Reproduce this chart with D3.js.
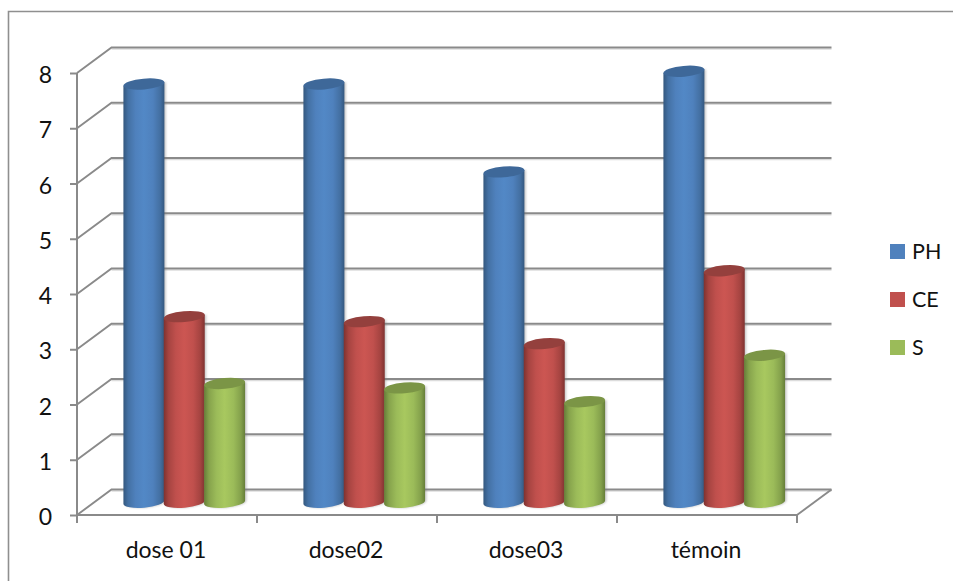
<!DOCTYPE html>
<html>
<head>
<meta charset="utf-8">
<script src="https://cdn.jsdelivr.net/npm/d3@7"></script>
<style>
html,body{margin:0;padding:0;background:#fff}
svg{display:block}
text{font-family:Lato,"Open Sans",sans-serif;fill:#111}
</style>
</head>
<body>
<svg id="chart" width="953" height="581"></svg>
<script>
// Chart data
const categories = ["dose 01", "dose02", "dose03", "témoin"];
const seriesNames = ["PH", "CE", "S"];
const PH = [7.57, 7.57, 5.98, 7.8];
const CE = [3.36, 3.27, 2.87, 4.19];
const S = [2.15, 2.07, 1.82, 2.66];
const yTicks = [0, 1, 2, 3, 4, 5, 6, 7, 8];

const seriesValues = [PH, CE, S];
const palette = [
  {edge:"#34587f", mid:"#4f81bd", light:"#5288c6", top:"#3e6899"},
  {edge:"#7f3230", mid:"#c0504d", light:"#cc5652", top:"#94403d"},
  {edge:"#667e39", mid:"#9bbb59", light:"#a8c85f", top:"#7b9546"}
];

const svg = d3.select("#chart");
const margin = {left:77, right:797, top:73, bottom:515};
const depth = {dx:34.5, dy:-25.5};   // oblique offset from front plane to back wall
const axisColor = "#8a8a8a";

const x = d3.scaleBand().domain(categories).range([margin.left, margin.right]);
const y = d3.scaleLinear().domain([0, 8]).range([margin.bottom, margin.top]);
const xSeries = d3.scaleBand().domain(seriesNames).range([29.5, 150.5]);

// Outer frame: only the top and left edges fall inside the canvas
svg.append("path").attr("d", "M8.5,581V11.5H953").attr("fill", "none")
  .attr("stroke", "#8f8f8f").attr("stroke-width", 1.6);

// Gradients for the cylinder bodies
const defs = svg.append("defs");
palette.forEach((c, i) => {
  const g = defs.append("linearGradient").attr("id", "body" + i);
  [[0, c.edge], [0.12, d3.interpolateRgb(c.edge, c.mid)(0.6)], [0.3, c.mid], [0.5, c.light],
   [0.72, c.mid], [0.9, d3.interpolateRgb(c.edge, c.mid)(0.55)], [1, c.edge]]
    .forEach(([o, col]) => g.append("stop").attr("offset", o).attr("stop-color", col));
});
const soft = defs.append("filter").attr("id", "soft")
  .attr("x", "-20%").attr("width", "140%").attr("y", "-5%").attr("height", "110%");
soft.append("feGaussianBlur").attr("stdDeviation", 1);

// Back-wall gridlines, side-wall diagonals and the floor
const grid = svg.append("g").attr("fill", "none");
yTicks.forEach(t => {
  const py = y(t);
  const d = `M${margin.left},${py}L${margin.left + depth.dx},${py + depth.dy}H${margin.right + depth.dx}`;
  grid.append("path").attr("d", `M${margin.left + depth.dx},${py + depth.dy + 1.6}H${margin.right + depth.dx}`)
    .attr("stroke", "#dcdcdc").attr("stroke-width", 1.4);
  grid.append("path").attr("d", d).attr("stroke", axisColor).attr("stroke-width", 1.9);
});
grid.append("path")
  .attr("d", `M${margin.right},${margin.bottom}L${margin.right + depth.dx},${margin.bottom + depth.dy}`)
  .attr("stroke", axisColor).attr("stroke-width", 1.9);

// Axes on the front plane
const yAxis = svg.append("g").attr("transform", `translate(${margin.left},0)`)
  .call(d3.axisLeft(y).tickValues(yTicks).tickSize(7).tickPadding(18).tickFormat(d3.format("d")));
const xAxis = svg.append("g").attr("transform", `translate(0,${margin.bottom})`)
  .call(d3.axisBottom(x).tickSize(0).tickPadding(27));
[yAxis, xAxis].forEach(a => {
  a.selectAll(".domain").attr("stroke", axisColor).attr("stroke-width", 2);
  a.selectAll("line").attr("stroke", axisColor).attr("stroke-width", 2);
  a.selectAll("text").attr("font-size", 23).style("font-family", "Lato").attr("fill", "#111");
});
yAxis.select(".domain").attr("d", `M0,${margin.top}V${margin.bottom}`);
xAxis.select(".domain").attr("d", `M${margin.left},0H${margin.right}`);
xAxis.selectAll("text").attr("dx", -1);
yAxis.selectAll("text").attr("dy", "0.42em");
svg.append("g").attr("transform", `translate(0,${margin.bottom})`)
  .selectAll("line").data(d3.range(categories.length + 1)).join("line")
  .attr("x1", i => margin.left + i * x.bandwidth())
  .attr("x2", i => margin.left + i * x.bandwidth())
  .attr("y1", 0).attr("y2", 8).attr("stroke", axisColor).attr("stroke-width", 2);

// Cylinders stand halfway between the front plane and the back wall
const tilt = 5, tiltRad = tilt * Math.PI / 180;
const marks = svg.append("g");
categories.forEach((cat, ci) => {
  seriesNames.forEach((name, si) => {
    const w = xSeries.bandwidth(), rx = w / 2 + 0.4, ry = 5.4;
    const cx = x(cat) + depth.dx / 2 + xSeries(name) + w / 2;
    const yBase = y(0) + depth.dy / 2;
    const yTop = y(seriesValues[si][ci]) + depth.dy / 2;
    const ox = rx * Math.cos(tiltRad), oy = rx * Math.sin(tiltRad);
    const body = `M${cx - ox},${yTop + oy}L${cx - ox},${yBase + oy}` +
      `A${rx},${ry} ${-tilt} 0 0 ${cx + ox},${yBase - oy}L${cx + ox},${yTop - oy}Z`;
    marks.append("path").attr("d", body).attr("fill", "#777").attr("opacity", 0.4)
      .attr("transform", "translate(1.5,0)").attr("filter", "url(#soft)");
    marks.append("path").attr("d", body).attr("fill", `url(#body${si})`);
    marks.append("ellipse").attr("rx", rx).attr("ry", ry)
      .attr("transform", `translate(${cx},${yTop}) rotate(${-tilt})`)
      .attr("fill", palette[si].top);
  });
});

// Legend
const legendY = d3.scalePoint().domain(seriesNames).range([251.5, 347.5]);
const legend = svg.append("g");
seriesNames.forEach((name, i) => {
  legend.append("rect").attr("x", 890).attr("y", legendY(name) - 7.5)
    .attr("width", 15).attr("height", 15).attr("fill", palette[i].mid);
  legend.append("text").attr("x", 912).attr("y", legendY(name) + 7.5)
    .attr("font-size", 21.5).text(name);
});
</script>
</body>
</html>
